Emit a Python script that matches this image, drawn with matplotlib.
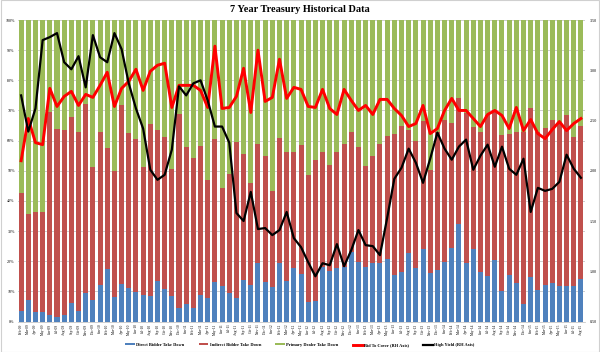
import matplotlib
matplotlib.use("Agg")
import matplotlib.pyplot as plt
import numpy as np
import pandas as pd

# monthly 7y auctions, Feb-09 .. Aug-15
months = pd.date_range("2009-02-01", periods=79, freq="MS").strftime("%b-%y").tolist()

# direct bidder take down (% of auction)
direct = [3.6, 7.3, 3.3, 3.0, 2.2, 1.4, 2.0, 6.0, 3.6, 9.6,
          7.0, 12.0, 17.3, 8.2, 12.3, 11.0, 9.9, 8.8, 8.6, 13.5,
          10.8, 8.5, 4.6, 5.7, 4.4, 8.8, 7.9, 13.0, 11.9, 9.3,
          7.9, 13.7, 12.1, 19.3, 13.2, 11.6, 19.3, 13.5, 17.9, 15.7,
          6.6, 6.9, 18.2, 16.9, 17.6, 18.2, 23.0, 19.8, 18.2, 19.5,
          19.5, 20.6, 15.4, 16.5, 22.6, 17.6, 23.9, 16.2, 17.1, 19.8,
          24.3, 32.3, 19.3, 23.9, 16.5, 15.2, 20.4, 10.1, 15.4, 12.7,
          5.9, 14.9, 10.5, 12.2, 12.7, 11.9, 11.9, 11.9, 14.0]

# direct + indirect (top of the red segment)
dir_plus_indir = [42.5, 35.5, 36.2, 36.4, 69.6, 64.0, 63.4, 68.0, 63.0, 72.0,
                  51.3, 63.0, 57.7, 50.0, 71.8, 62.6, 60.7, 51.1, 65.4, 63.5,
                  61.2, 50.6, 68.8, 57.8, 54.1, 58.3, 46.9, 60.5, 44.2, 48.8,
                  59.7, 55.4, 45.8, 58.9, 55.0, 43.4, 61.0, 56.3, 56.1, 58.5,
                  48.6, 53.6, 56.3, 51.9, 56.3, 58.8, 63.0, 58.0, 51.6, 55.0,
                  58.8, 61.5, 62.2, 65.0, 63.5, 59.9, 66.5, 50.2, 63.0, 66.8,
                  66.0, 74.0, 69.0, 64.6, 62.7, 68.5, 70.2, 61.8, 62.2, 63.0,
                  62.7, 70.9, 63.0, 64.1, 66.8, 65.7, 68.5, 61.2, 64.8]

bid_to_cover = [2.10, 2.52, 2.28, 2.26, 2.82, 2.64, 2.74, 2.79, 2.65, 2.76,
                2.73, 2.85, 2.98, 2.64, 2.82, 2.89, 3.01, 2.80, 2.99, 3.05,
                3.07, 2.63, 2.85, 2.85, 2.85, 2.80, 2.63, 3.24, 2.62, 2.63,
                2.74, 3.02, 2.58, 3.20, 2.69, 2.73, 3.11, 2.72, 2.83, 2.81,
                2.64, 2.63, 2.81, 2.62, 2.56, 2.81, 2.70, 2.60, 2.65, 2.56,
                2.71, 2.71, 2.62, 2.55, 2.44, 2.47, 2.65, 2.37, 2.42, 2.60,
                2.72, 2.60, 2.60, 2.52, 2.44, 2.56, 2.60, 2.55, 2.42, 2.63,
                2.40, 2.51, 2.37, 2.32, 2.41, 2.49, 2.40, 2.47, 2.52]

high_yield = [2.75, 2.39, 2.62, 3.30, 3.33, 3.37, 3.08, 3.01, 3.14, 2.83,
              3.35, 3.13, 3.08, 3.37, 3.21, 2.87, 2.62, 2.42, 2.01, 1.91,
              1.96, 2.21, 2.84, 2.75, 2.87, 2.90, 2.70, 2.44, 2.44, 2.28,
              1.58, 1.50, 1.79, 1.42, 1.43, 1.36, 1.41, 1.59, 1.33, 1.24,
              1.09, 0.95, 1.08, 1.06, 1.27, 1.05, 1.21, 1.41, 1.26, 1.25,
              1.16, 1.53, 1.92, 2.03, 2.22, 2.08, 1.88, 2.12, 2.38, 2.22,
              2.11, 2.24, 2.31, 2.01, 2.15, 2.26, 2.04, 2.24, 2.02, 1.96,
              2.12, 1.59, 1.83, 1.80, 1.82, 1.89, 2.16, 2.02, 1.93]

BLUE = "#4F81BD"
RED = "#C0504D"
GREEN = "#9BBB59"

direct = np.array(direct) / 100.0
indirect = np.array(dir_plus_indir) / 100.0 - direct
dealer = 1.0 - direct - indirect
x = np.arange(len(months))

fig = plt.figure(figsize=(6.0, 3.52), dpi=100)
ax = fig.add_axes([0.0292, 0.0866, 0.945, 0.8565])
ax2 = ax.twinx()

w = 0.7
b1 = ax.bar(x, direct, w, color=BLUE, label="Direct Bidder Take Down", zorder=2)
b2 = ax.bar(x, indirect, w, bottom=direct, color=RED, label="Indirect Bidder Take Down", zorder=2)
b3 = ax.bar(x, dealer, w, bottom=direct + indirect, color=GREEN, label="Primary Dealer Take Down", zorder=2)

l1, = ax2.plot(x, bid_to_cover, color="#FF0000", lw=2.1, label="Bid To Cover (RH Axis)")
l2, = ax2.plot(x, high_yield, color="black", lw=1.6, label="High Yield (RH Axis)")

ax.set_xlim(-0.5, len(months) - 0.5)
ax.set_ylim(0, 1)
ax.set_yticks(np.arange(0, 1.01, 0.1))
ax.set_yticklabels(["{:d}%".format(int(round(v * 100))) for v in np.arange(0, 1.01, 0.1)])
ax.yaxis.grid(True, color="#BBBBBB", lw=0.5, zorder=0)
ax.set_axisbelow(True)

ax2.set_ylim(0.5, 3.5)
ax2.set_yticks(np.arange(0.5, 3.51, 0.5))
ax2.set_yticklabels(["{:.2f}".format(v) for v in np.arange(0.5, 3.51, 0.5)])

ax.set_xticks(x)
ax.set_xticklabels(months, rotation=90, fontsize=2.6, family="Liberation Serif")
for a in (ax, ax2):
    for s in a.spines.values():
        s.set_visible(False)
    a.tick_params(length=0, pad=1.5)
ax.tick_params(axis="y", labelsize=3, pad=2)
ax2.tick_params(axis="y", labelsize=3, pad=4)
for lab in ax.get_yticklabels() + ax2.get_yticklabels():
    lab.set_family("Liberation Serif")
ax.spines["bottom"].set_visible(True)
ax.spines["bottom"].set_color("#BBBBBB")
ax.spines["bottom"].set_linewidth(0.5)

fig.text(0.5, 0.972, "7 Year Treasury Historical Data", ha="center", va="center",
         fontsize=7.4, fontweight="bold", family="Liberation Serif")

fig.legend([b1, b2, b3, l1, l2],
           [h.get_label() for h in (b1, b2, b3, l1, l2)],
           loc="center", bbox_to_anchor=(0.5, 0.02), ncol=5, frameon=False,
           prop={"family": "Liberation Serif", "size": 3.2, "weight": "bold"},
           handlelength=2.2, handleheight=0.4, columnspacing=3.2, handletextpad=0.3)

fig.patches.append(plt.Rectangle((0.001, 0.001), 0.998, 0.998, transform=fig.transFigure,
                                 fill=False, edgecolor="#D0D0D0", lw=0.8))

fig.savefig("out.png", dpi=100)
